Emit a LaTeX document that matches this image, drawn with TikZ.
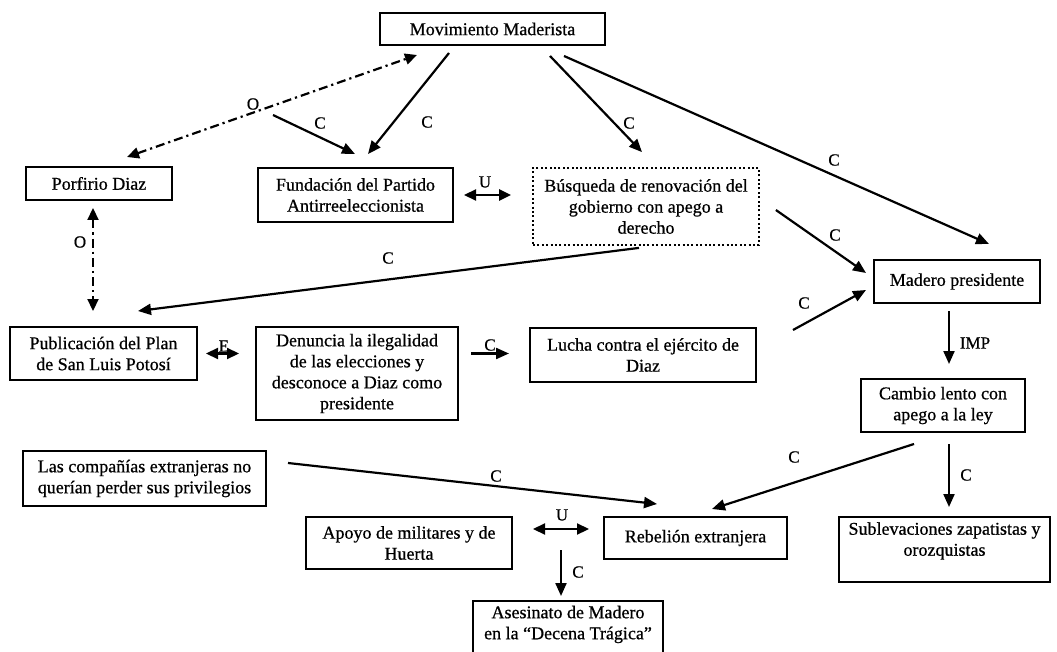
\documentclass[tikz,border=0pt]{standalone}
\usepackage{fontspec}
\setmainfont{Liberation Serif}[FakeBold=0.7]
\usetikzlibrary{arrows.meta,calc}
\begin{document}
\begin{tikzpicture}[x=1pt,y=-1pt,
  box/.style={draw, line width=2pt, align=center, inner sep=0pt,
    font=\fontsize{18}{21}\selectfont},
  dotbox/.style={box, line width=1.8pt, dash pattern=on 2pt off 2.4pt},
  conn/.style={line width=2.2pt, -{Triangle[length=13pt,width=11pt]}},
  both/.style={line width=2.2pt, {Triangle[length=12pt,width=11pt]}-{Triangle[length=12pt,width=11pt]}},
  dashdot/.style={dash pattern=on 9pt off 4pt on 2.2pt off 4pt},
  lbl/.style={font=\fontsize{17}{17}\selectfont, inner sep=0pt}]

% canvas
\fill[white] (0,0) rectangle (1057,652);
\useasboundingbox (0,0) rectangle (1057,652);

% concept boxes
\node[box, minimum width=225pt, minimum height=32pt] (mm) at (492.5,29) {Movimiento Maderista};
\node[box, minimum width=146pt, minimum height=33pt] (pd) at (99,183.5) {Porfirio Diaz};
\node[box, minimum width=195pt, minimum height=54pt] (fund) at (355.5,195) {Fundación del Partido\\Antirreeleccionista};
\node[dotbox, minimum width=226pt, minimum height=77pt] (busq) at (646,206.5) {Búsqueda de renovación del\\gobierno con apego a\\derecho};
\node[box, minimum width=166pt, minimum height=43pt] (madp) at (957,281.5) {Madero presidente};
\node[box, minimum width=187pt, minimum height=53pt] (pub) at (103.5,353.5) {Publicación del Plan\\de San Luis Potosí};
\node[box, minimum width=202pt, minimum height=93pt] (den) at (357,373.5) {Denuncia la ilegalidad\\de las elecciones y\\desconoce a Diaz como\\presidente};
\node[box, minimum width=226pt, minimum height=54pt] (lucha) at (643,355) {Lucha contra el ejército de\\Diaz};
\node[box, minimum width=164pt, minimum height=53pt] (cambio) at (943,405.5) {Cambio lento con\\apego a la ley};
\node[box, minimum width=243pt, minimum height=55pt] (comp) at (144.5,478.5) {Las compañías extranjeras no\\querían perder sus privilegios};
\node[box, minimum width=206pt, minimum height=52pt] (apoyo) at (409,543) {Apoyo de militares y de\\Huerta};
\node[box, minimum width=183pt, minimum height=42pt] (rebel) at (695.5,538) {Rebelión extranjera};
\node[box, minimum width=211pt, minimum height=65pt] (subl) at (944.5,549.5) {Sublevaciones zapatistas y\\orozquistas\\\mbox{}};
\node[box, minimum width=190pt, minimum height=64pt] (ases) at (568,633) {Asesinato de Madero\\en la “Decena Trágica”\\\mbox{}};

% branch points on connectors
\coordinate (ofork) at (273,115);
\coordinate (ufork) at (561,550);

% connectors
\draw[conn] ($(mm.south)+(-43.5,7)$) -- ($(fund.north)+(12.5,-13)$);
\draw[both, dashdot] ($(pd.north)+(28,-9)$) -- ($(mm.south west)+(38,9)$);
\draw[conn] (ofork) -- ($(fund.north)+(-0.5,-13)$);
\draw[conn] ($(mm.south)+(57.5,10)$) -- ($(busq.north)+(-4,-15)$);
\draw[conn] ($(mm.south)+(71.5,10)$) -- ($(madp.north)+(32,-15)$);
\draw[both] ($(fund.east)+(10,0)$) -- ($(busq.west |- fund.east)+(-21,0)$);
\draw[conn] ($(busq.south)+(-7,2)$) -- ($(pub.north)+(34.5,-15)$);
\draw[conn] ($(busq.east)+(16,3.5)$) -- ($(madp.west)+(-7,-8.5)$);
\draw[conn] ($(lucha.east)+(36,-25)$) -- ($(madp.west)+(-7,8.5)$);
\draw[both, dashdot] ($(pd.south)+(-6,7)$) -- ($(pub.north)+(-10.5,-15)$);
\draw[both] ($(pub.east)+(8,0)$) -- ($(den.west |- pub.east)+(-16,0)$);
\draw[conn] ($(den.east |- pub.east)+(12,0)$) -- ($(lucha.west |- pub.east)+(-20,0)$);
\draw[conn] ($(madp.south)+(-8,7)$) -- ($(cambio.north)+(6,-14)$);
\draw[conn] ($(cambio.south)+(-29,11)$) -- ($(rebel.north)+(16.5,-7)$);
\draw[conn] ($(cambio.south)+(6,11)$) -- ($(subl.north)+(4.5,-9)$);
\draw[conn] ($(comp.east)+(21,-15.5)$) -- ($(rebel.north)+(-38.5,-12)$);
\draw[both] ($(apoyo.east)+(20,-14)$) -- ($(rebel.west)+(-14,-9)$);
\draw[conn] (ufork) -- ($(ases.north)+(-7,-4)$);

% connector labels
\node[lbl] (l1) at (427,122) {C};
\node[lbl] (l2) at (253,104) {O};
\node[lbl] (l3) at (320,123) {C};
\node[lbl] (l4) at (629,123) {C};
\node[lbl] (l5) at (834,160) {C};
\node[lbl] (l6) at (485,182) {U};
\node[lbl] (l7) at (388,258) {C};
\node[lbl] (l8) at (835,235) {C};
\node[lbl] (l9) at (804,303) {C};
\node[lbl] (l10) at (80,242) {O};
\node[lbl] (l11) at (224,346) {E};
\node[lbl] (l12) at (490,345) {C};
\node[lbl] (l13) at (975,343) {IMP};
\node[lbl] (l14) at (794,457) {C};
\node[lbl] (l15) at (966,475) {C};
\node[lbl] (l16) at (496,476) {C};
\node[lbl] (l17) at (562,515) {U};
\node[lbl] (l18) at (578,572) {C};
\end{tikzpicture}
\end{document}
